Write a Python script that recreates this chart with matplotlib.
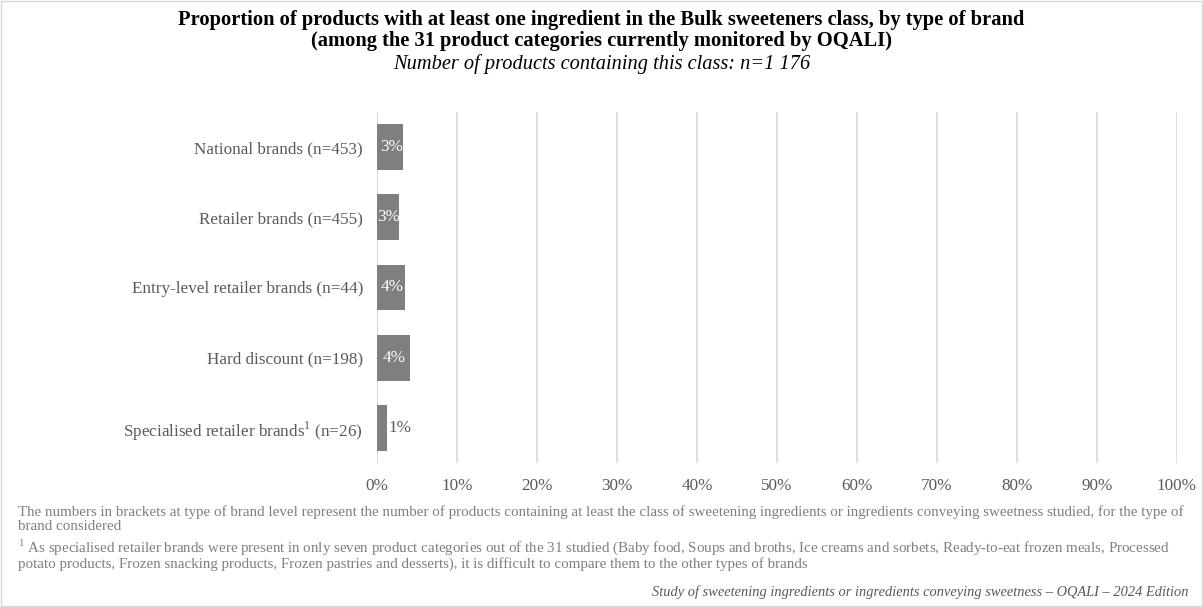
import matplotlib
matplotlib.use("Agg")
import matplotlib.pyplot as plt
from matplotlib.patches import Rectangle

categories = [
    "National brands (n=453)",
    "Retailer brands (n=455)",
    "Entry-level retailer brands (n=44)",
    "Hard discount (n=198)",
    "Specialised retailer brands$^{1}$ (n=26)",
]
values = [3.3, 2.7, 3.5, 4.1, 1.2]
labels = ["3%", "3%", "4%", "4%", "1%"]
ticks = list(range(0, 101, 10))

plt.rcParams["font.family"] = ["Liberation Serif", "DejaVu Serif"]
plt.rcParams["mathtext.fontset"] = "custom"
plt.rcParams["mathtext.rm"] = "Liberation Serif"

W, H = 1203, 607
fig = plt.figure(figsize=(W / 100, H / 100), dpi=100)
fig.patches.append(Rectangle((0.001, 0.001), 0.998, 0.997, transform=fig.transFigure,
                             fill=False, edgecolor="#d9d9d9", linewidth=1))

ax = fig.add_axes([377 / W, 1 - 463 / H, 800 / W, (463 - 112) / H])
y = list(range(len(categories)))
ax.barh(y, values, height=0.65, color="#7f7f7f", zorder=3)
ax.set_ylim(len(categories) - 0.5, -0.5)
ax.set_xlim(0, 100)
ax.set_xticks(ticks)
ax.set_xticklabels([f"{t}%" for t in ticks], color="#595959", fontsize=12.3)
ax.set_yticks(y)
ax.set_yticklabels(categories, color="#595959", fontsize=12.3)
ax.tick_params(length=0, pad=10)
ax.tick_params(axis="x", pad=11)
ax.xaxis.grid(True, color="#d9d9d9", linewidth=1.2, zorder=0)
for s in ax.spines.values():
    s.set_visible(False)
ax.axvline(0, color="#d9d9d9", linewidth=1.5, zorder=1)

for yi, v, lab in zip(y, values, labels):
    if v >= 2.5:
        ax.text(v / 2 + 0.15, yi, lab, ha="center", va="center", color="white", fontsize=12.3, zorder=4)
    else:
        ax.text(v + 0.2, yi, lab, ha="left", va="center", color="#595959", fontsize=12.3, zorder=4)

fig.text(0.5, 1 - 20 / H, "Proportion of products with at least one ingredient in the Bulk sweeteners class, by type of brand",
         ha="center", va="center", fontsize=14.8, fontweight="bold", color="#000000")
fig.text(0.5, 1 - 41 / H, "(among the 31 product categories currently monitored by OQALI)",
         ha="center", va="center", fontsize=14.8, fontweight="bold", color="#000000")
fig.text(0.5, 1 - 64 / H, "Number of products containing this class: n=1 176",
         ha="center", va="center", fontsize=14.7, style="italic", color="#000000")

note_color = "#7f7f7f"
fig.text(18 / W, 1 - 519 / H,
         "The numbers in brackets at type of brand level represent the number of products containing at least the class of sweetening ingredients or ingredients conveying sweetness studied, for the type of\nbrand considered",
         ha="left", va="center", fontsize=10.8, color=note_color, linespacing=1.05)
fig.text(18 / W, 1 - 554 / H,
         "$^{1}$ As specialised retailer brands were present in only seven product categories out of the 31 studied (Baby food, Soups and broths, Ice creams and sorbets, Ready-to-eat frozen meals, Processed\npotato products, Frozen snacking products, Frozen pastries and desserts), it is difficult to compare them to the other types of brands",
         ha="left", va="center", fontsize=10.8, color=note_color, linespacing=1.05)
fig.text(1188 / W, 1 - 592 / H,
         "Study of sweetening ingredients or ingredients conveying sweetness \u2013 OQALI \u2013 2024 Edition",
         ha="right", va="center", fontsize=10.4, style="italic", color="#595959")

fig.savefig("out.png", dpi=100)
